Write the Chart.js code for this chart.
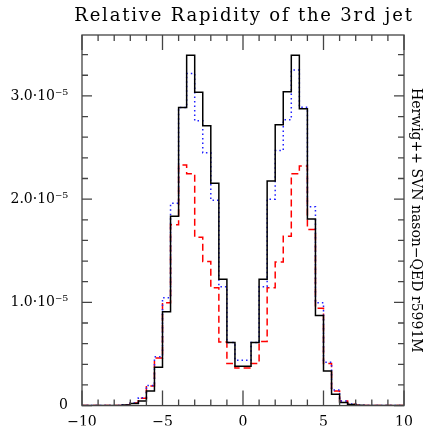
<!DOCTYPE html>
<html>
<head>
  <meta charset="utf-8">
  <script src="https://cdn.jsdelivr.net/npm/chart.js"></script>
  <style>
    body { margin: 0; background: #fff; }
  </style>
</head>
<body>
  <canvas id="rapChart" width="425" height="428"></canvas>

  <script>
    // histogram bin edges (relative rapidity of 3rd jet)
    const binEdges = [-10, -9.5, -9, -8.5, -8, -7.5, -7, -6.5, -6, -5.5, -5, -4.5, -4, -3.5, -3, -2.5, -2, -1.5, -1, -0.5,
      0, 0.5, 1, 1.5, 2, 2.5, 3, 3.5, 4, 4.5, 5, 5.5, 6, 6.5, 7, 7.5, 8, 8.5, 9, 9.5, 10];

    // bin contents, in units of 1e-5
    const solidBlack = [0, 0, 0, 0, 0, 0.005, 0.02, 0.045, 0.141, 0.372, 0.91, 1.834, 2.888, 3.394, 3.035, 2.71, 2.154, 1.224, 0.612, 0.38,
      0.38, 0.612, 1.224, 2.176, 2.72, 3.04, 3.394, 2.875, 1.808, 0.872, 0.334, 0.109, 0.029, 0.01, 0.003, 0, 0, 0, 0, 0];
    const dottedBlue = [0, 0, 0, 0, 0, 0.006, 0.025, 0.077, 0.195, 0.474, 1.045, 1.96, 2.888, 3.218, 2.76, 2.449, 1.99, 1.151, 0.612, 0.44,
      0.44, 0.612, 1.151, 2.0, 2.471, 2.77, 3.25, 2.89, 1.926, 0.997, 0.42, 0.151, 0.045, 0.015, 0.004, 0, 0, 0, 0, 0];
    const dashedRed = [0, 0, 0, 0, 0, 0.006, 0.025, 0.07, 0.19, 0.46, 0.997, 1.753, 2.33, 2.247, 1.632, 1.397, 1.141, 0.615, 0.407, 0.365,
      0.365, 0.407, 0.622, 1.141, 1.391, 1.641, 2.247, 2.32, 1.705, 0.942, 0.407, 0.141, 0.045, 0.012, 0.004, 0, 0, 0, 0, 0];

    const xTickValues = [-10, -5, 0, 5, 10];
    const xTickLabels = ['\u221210', '\u22125', '0', '5', '10'];
    const yTickValues = [0, 1, 2, 3];
    const yTickLabels = ['0', '1.0\u00b710\u207b\u2075', '2.0\u00b710\u207b\u2075', '3.0\u00b710\u207b\u2075'];

    const titleText = 'Relative Rapidity of the 3rd jet';
    const serif = 'DejaVu Serif';

    // each bin -> two corners, gives the histogram steps
    function histPoints(vals) {
      const pts = [];
      vals.forEach((v, i) => {
        pts.push({ x: binEdges[i], y: v });
        pts.push({ x: binEdges[i + 1], y: v });
      });
      return pts;
    }

    // box frame with inward ticks on all four sides, plus the spaced-out title
    const frameTicks = {
      id: 'frameTicks',
      afterDatasetsDraw(chart) {
        const { ctx, chartArea: a, scales: { x, y } } = chart;
        ctx.save();
        ctx.strokeStyle = '#444';
        ctx.lineWidth = 1.3;
        ctx.strokeRect(a.left, a.top, a.right - a.left, a.bottom - a.top);
        ctx.beginPath();
        for (let v = -10; v <= 10; v++) {
          const px = x.getPixelForValue(v);
          const len = v % 5 === 0 ? 15 : 6;
          ctx.moveTo(px, a.bottom); ctx.lineTo(px, a.bottom - len);
          ctx.moveTo(px, a.top); ctx.lineTo(px, a.top + len);
        }
        for (let k = 0; k <= 17; k++) {
          const py = y.getPixelForValue(k * 0.2);
          const len = k % 5 === 0 ? 10 : 6;
          ctx.moveTo(a.left, py); ctx.lineTo(a.left + len, py);
          ctx.moveTo(a.right, py); ctx.lineTo(a.right - len, py);
        }
        ctx.stroke();

        ctx.fillStyle = '#000';
        ctx.font = '18px "' + serif + '"';
        ctx.letterSpacing = '1.8px';
        ctx.textAlign = 'center';
        ctx.textBaseline = 'alphabetic';
        ctx.fillText(titleText, (a.left + a.right) / 2 + 1, 21);
        ctx.restore();
      }
    };

    new Chart(document.getElementById('rapChart'), {
      type: 'line',
      data: {
        datasets: [
          { data: histPoints(solidBlack), borderColor: '#000', borderWidth: 1.5 },
          { data: histPoints(dottedBlue), borderColor: '#2020ff', borderWidth: 1.5, borderDash: [1.5, 3] },
          { data: histPoints(dashedRed), borderColor: '#ff0000', borderWidth: 1.5, borderDash: [7, 4] }
        ]
      },
      options: {
        responsive: false,
        animation: false,
        devicePixelRatio: 1,
        layout: { padding: { top: 35 } },
        elements: { point: { radius: 0 }, line: { tension: 0 } },
        plugins: { legend: { display: false }, tooltip: { enabled: false } },
        scales: {
          x: {
            type: 'linear', position: 'bottom', min: -10, max: 10,
            grid: { display: false, drawTicks: false }, border: { display: false },
            afterBuildTicks: s => { s.ticks = xTickValues.map(v => ({ value: v })); },
            ticks: {
              autoSkip: false, maxRotation: 0, padding: 8, color: '#000',
              font: { family: serif, size: 14 },
              callback: (v, i) => xTickLabels[i]
            },
            afterFit: s => { s.height = 20; }
          },
          y: {
            type: 'linear', position: 'left', min: 0, max: 3.59,
            grid: { display: false, drawTicks: false }, border: { display: false },
            afterBuildTicks: s => { s.ticks = yTickValues.map(v => ({ value: v })); },
            ticks: {
              autoSkip: false, padding: 14, color: '#000',
              font: { family: serif, size: 14 },
              callback: (v, i) => yTickLabels[i]
            },
            afterFit: s => { s.width = 82; }
          },
          yRight: {
            type: 'linear', position: 'right', min: 0, max: 1,
            grid: { display: false, drawTicks: false }, border: { display: false },
            ticks: { display: false },
            title: {
              display: true, text: 'Herwig++ SVN nason\u2212QED r5991M', color: '#000',
              font: { family: serif, size: 14 }, padding: { top: 1, bottom: 0 }
            },
            afterFit: s => { s.width = 21; }
          }
        }
      },
      plugins: [frameTicks]
    });
  </script>
</body>
</html>
